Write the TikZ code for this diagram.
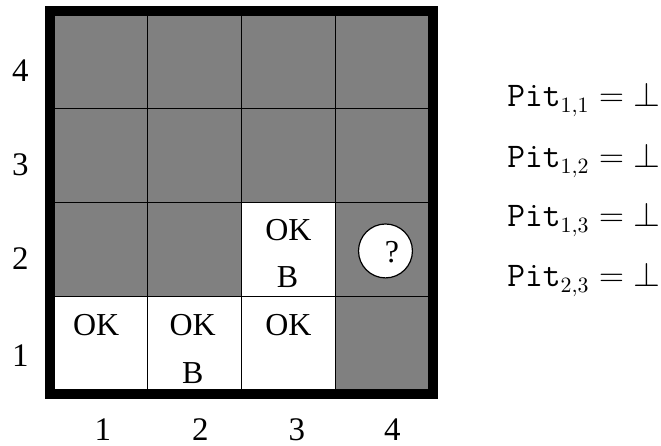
\documentclass[tikz,border=0pt]{standalone}
\usepackage[no-math]{fontspec}
\setmainfont{Liberation Serif}
\usepackage{xcolor}
\definecolor{CaveGray}{HTML}{808080}
\usepackage{amsmath}
\usepackage{amssymb}
\usetikzlibrary{positioning}

\begin{document}
\begin{tikzpicture}[
  x=1.65cm,y=1.65cm,
  cellnote/.style={font=\fontsize{16}{19}\selectfont,inner sep=0pt},
  axislabel/.style={font=\fontsize{16.5}{19}\selectfont,inner sep=0pt},
  query/.style={draw,circle,fill=white,line width=0.6pt,minimum size=27pt,inner sep=0pt},
  fact/.style={font=\fontsize{16}{19}\selectfont,anchor=base west,inner sep=0pt}
]
\useasboundingbox (-0.576,-0.597) rectangle (6.475,4.16);
% cave: unknown squares grey, visited squares white
\fill[CaveGray] (0,0) rectangle (4,4);
\fill[white] (0,0) rectangle (3,1);
\fill[white] (2,1) rectangle (3,2);
\draw[line width=0.6pt,step=1.65cm] (0,0) grid (4,4);
\draw[line width=4.5pt] (-0.048,-0.048) rectangle (4.048,4.048);

\node[cellnote] (ok11) at (0.45,0.69) {OK};
\node[cellnote] (ok21) at (1.48,0.69) {OK};
\node[cellnote] (b21) at (1.48,0.18) {B};
\node[cellnote] (ok31) at (2.50,0.69) {OK};
\node[cellnote] (ok32) at (2.50,1.71) {OK};
\node[cellnote] (b32) at (2.49,1.20) {B};
\node[query] (q42) at (3.536,1.483) {};
\node[cellnote] (qmark) at (3.605,1.472) {?};

% row and column numbers
\node[axislabel] (row1) at (-0.36,0.37) {1};
\node[axislabel] (row2) at (-0.36,1.40) {2};
\node[axislabel] (row3) at (-0.36,2.40) {3};
\node[axislabel] (row4) at (-0.36,3.41) {4};
\node[axislabel] (col1) at (0.52,-0.42) {1};
\node[axislabel] (col2) at (1.56,-0.42) {2};
\node[axislabel] (col3) at (2.59,-0.42) {3};
\node[axislabel] (col4) at (3.61,-0.42) {4};

% known facts
\node[fact] (pit11) at (4.832,3.019) {$\mathtt{Pit}_{1,1} = \bot$};
\node[fact] (pit12) at (4.832,2.368) {$\mathtt{Pit}_{1,2} = \bot$};
\node[fact] (pit13) at (4.832,1.739) {$\mathtt{Pit}_{1,3} = \bot$};
\node[fact] (pit23) at (4.832,1.099) {$\mathtt{Pit}_{2,3} = \bot$};
\end{tikzpicture}
\end{document}
